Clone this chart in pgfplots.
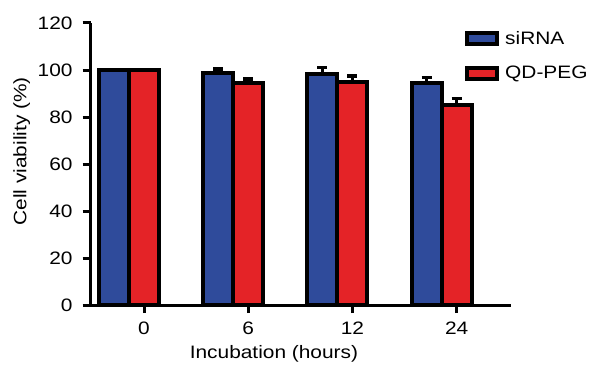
\documentclass[border=0pt]{standalone}
\usepackage{fontspec}
\setmainfont{Liberation Sans}[FakeStretch=1.16]
\usepackage{pgfplots}
\pgfplotsset{compat=1.18}
\definecolor{barblue}{RGB}{47,75,155}
\definecolor{barred}{RGB}{228,35,39}
\begin{document}
\fontsize{18}{21}\selectfont
\begin{tikzpicture}[x=1pt,y=1pt]
\path[use as bounding box] (-90.7,-62) rectangle (501.3,305);
\begin{axis}[
  at={(0pt,0pt)}, anchor=south west,
  scale only axis, width=420.3pt, height=282pt,
  xmin=-0.512, xmax=3.522, ymin=0, ymax=120,
  axis x line*=bottom, axis y line*=left,
  axis line style={line width=3pt, black},
  x axis line style={shorten <=-7.5pt},
  tick style={line width=3pt, black},
  major tick length=8pt, tick align=outside,
  xtick={0,1,2,3}, xticklabels={0,6,12,24},
  ytick={0,20,...,120},
  /pgf/number format/assume math mode=true,
  ticklabel style={font=\fontsize{18}{21}\selectfont},
  xticklabel style={yshift=-3pt},
  yticklabel style={xshift=-4pt},
  xlabel={Incubation (hours)},
  ylabel={Cell viability (\%)},
  label style={font=\fontsize{18}{21}\selectfont},
  xlabel style={at={(axis description cs:0.436,-0.174)}, anchor=center},
  ylabel style={at={(axis description cs:-0.164,0.545)}, anchor=center, rotate=0},
  ybar, bar width=30pt,
  legend image code/.code={\draw[#1, line width=4pt] (0pt,-5.5pt) rectangle (30pt,5.5pt);},
  legend style={at={(axis description cs:0.8906,0.972)}, anchor=north west, draw=none, fill=none,
    font=\fontsize{18}{21}\selectfont, row sep=19pt, inner sep=0pt,
    nodes={inner xsep=6pt, inner ysep=0pt}},
  legend cell align=left,
]
\addplot[fill=barblue, draw=black, line width=4pt, bar shift=-30pt,
  error bars/.cd, y dir=plus, y explicit,
  error bar style={line width=3.5pt, black},
  error mark options={line width=3.5pt, mark size=5pt, rotate=90, black}]
  coordinates {(0,99.8) +- (0,0) (1,98.9) +- (0,1.5) (2,98.3) +- (0,2.7) (3,94.5) +- (0,2.4)};
\addlegendentry{siRNA}
\addplot[fill=barred, draw=black, line width=4pt, bar shift=0pt,
  error bars/.cd, y dir=plus, y explicit,
  error bar style={line width=3.5pt, black},
  error mark options={line width=3.5pt, mark size=5pt, rotate=90, black}]
  coordinates {(0,99.8) +- (0,0) (1,94.5) +- (0,1.7) (2,94.7) +- (0,2.7) (3,85.2) +- (0,2.6)};
\addlegendentry{QD-PEG}
\end{axis}
\end{tikzpicture}
\end{document}
